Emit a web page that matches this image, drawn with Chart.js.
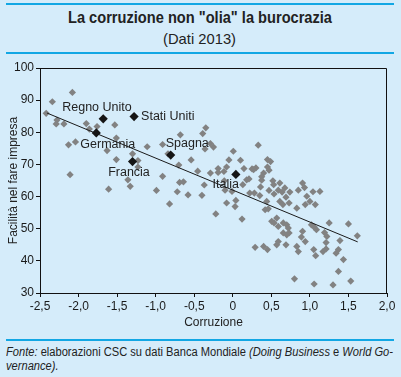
<!DOCTYPE html>
<html><head><meta charset="utf-8">
<script src="https://cdn.jsdelivr.net/npm/chart.js@4.4.1/dist/chart.umd.min.js"></script>
<style>
html,body{margin:0;padding:0;background:#d5ecfa;width:401px;height:377px;overflow:hidden;font-family:"Liberation Sans",Arial,sans-serif;color:#222;}
.rule{position:absolute;left:6px;width:388px;height:2px;background:#12a7e4;}
.t{position:absolute;white-space:nowrap;transform-origin:0 0;line-height:1;}
canvas{position:absolute;left:0;top:0;}
</style></head>
<body>
<div class="rule" style="top:3px"></div>
<div class="rule" style="top:52px"></div>
<div class="rule" style="top:339px"></div>
<div id="title" class="t" style="font-weight:bold;font-size:16.5px;">La corruzione non "olia" la burocrazia</div>
<div id="sub" class="t" style="font-size:15px;">(Dati 2013)</div>
<div id="f1" class="t" style="font-size:12px"><i>Fonte:</i> elaborazioni CSC su dati Banca Mondiale <i>(Doing Business</i> e <i>World Go-</i></div>
<div id="f2" class="t" style="font-size:12px"><i>vernance).</i></div>
<canvas id="c" width="401" height="377"></canvas>
<script>
// ---- data ----
const corruzione = [
 -2.42,-2.34,-2.08,-2.28,-2.29,-2.19,-2.13,-2.04,-2.11,-1.90,
 -1.86,-1.76,-1.53,-1.63,-1.51,-1.51,-1.61,-1.36,-1.33,-1.30,
 -1.23,-1.23,-1.11,-0.99,-0.91,-0.91,-0.84,-0.82,-0.72,-0.69,
 -0.64,-0.58,-0.68,-0.70,-0.54,-0.455,-0.40,-0.37,-0.35,-0.39,
 -0.29,-0.25,-0.36,-0.29,-0.19,-0.19,-0.115,-0.08,-0.05,0.007,
 -0.22,-0.10,-0.01,-0.08,-0.11,0.04,0.03,0.12,0.10,0.145,
 0.13,0.18,0.21,0.25,0.30,0.27,0.33,0.45,0.49,0.45,
 0.47,0.40,0.375,0.375,0.52,0.36,0.47,0.59,0.64,0.74,
 0.85,0.905,0.93,1.04,1.13,0.96,0.28,0.35,0.535,0.69,
 0.22,0.61,0.53,0.675,0.42,0.46,0.61,0.65,0.73,0.83,
 0.94,1.00,1.07,0.44,0.505,0.57,0.535,0.59,0.655,0.70,
 0.72,0.655,0.70,0.73,0.59,0.57,0.69,0.29,0.40,0.45,
 0.83,0.85,0.905,0.89,1.02,1.055,1.085,1.19,1.22,1.21,
 1.25,1.39,1.50,1.615,1.05,1.075,1.17,1.21,1.34,1.37,
 1.435,1.37,0.80,1.055,1.30,1.53,0.94
];
const facilita = [
 85.9,89.5,92.4,83.8,82.6,82.6,76.1,77.0,66.8,82.7,
 81.0,81.8,82.3,74.3,78.2,71.5,62.3,65.2,63.2,73.3,
 71.2,69.2,75.5,61.9,76.2,66.3,73.3,57.7,61.5,64.4,
 64.6,60.5,79.2,69.8,71.4,67.9,60.4,63.6,81.4,79.6,
 76.5,75.4,74.8,67.3,68.7,67.5,67.8,69.2,71.4,74.1,
 54.6,62.0,61.6,58.0,64.9,58.8,56.9,53.0,71.3,68.7,
 63.7,65.2,65.5,68.6,68.9,68.4,76.0,71.5,70.9,69.2,
 68.2,67.3,66.2,65.1,64.9,63.0,61.9,62.0,61.4,61.4,
 62.0,64.2,62.8,61.5,61.6,60.1,61.1,60.3,60.8,59.8,
 61.1,64.2,63.7,62.7,55.9,56.2,58.5,57.5,58.0,56.4,
 57.5,58.5,57.5,58.5,52.3,53.3,51.8,50.7,51.8,51.2,
 50.2,48.7,48.1,48.7,46.0,45.0,45.0,44.2,44.5,43.5,
 44.5,42.9,49.2,47.4,51.2,50.5,49.7,48.8,47.6,45.7,
 51.8,46.3,51.5,47.8,43.5,41.6,42.9,43.7,42.4,43.5,
 40.4,36.7,34.4,32.8,32.5,33.7,46.0
];
const paesi = ['Regno Unito','Stati Uniti','Germania','Francia','Spagna','Italia'];
const paesiCorruzione = [-1.68,-1.28,-1.77,-1.30,-0.805,0.04];
const paesiFacilita = [84.2,84.9,79.8,70.9,72.9,66.9];
const trendX = [-2.41,1.62];
const trendY = [86.0,45.9];
const xTicks = [-2.5,-2.0,-1.5,-1.0,-0.5,0,0.5,1.0,1.5,2.0];
const xTickLabels = ['-2,5','-2,0','-1,5','-1,0','-0,5','0','0,5','1,0','1,5','2,0'];
const yTicks = [30,40,50,60,70,80,90,100];
const yTickLabels = ['30','40','50','60','70','80','90','100'];

// ---- header/footer text placement ----
function place(id, left, width, baseline, fs, scaleFrom){
  const el = document.getElementById(id);
  const w = el.getBoundingClientRect().width;
  const s = scaleFrom || (width / w);
  el.style.left = left + 'px';
  el.style.top = (baseline - 0.8465*fs) + 'px';
  el.style.transform = 'scaleX(' + s + ')';
  return s;
}
place('title', 68, 264, 23, 16.5);
place('sub', 163, 73, 43.3, 15);
const fs1 = place('f1', 6, 387, 356.5, 12);
place('f2', 6, 0, 370, 12, fs1);

// ---- chart ----
const labelOffsets = [[-41,-7.5],[7,3.3],[-16,14.7],[-24.4,14.8],[-5,-8.3],[-23.3,13.3]];
const framePlugin = {
  id:'frame',
  beforeDatasetsDraw(chart){
    const {ctx, chartArea:a} = chart;
    ctx.save();
    ctx.strokeStyle = '#111';
    ctx.lineWidth = 1;
    ctx.beginPath();
    const t = Math.round(a.top)+0.5, r = Math.round(a.right)-0.5;
    ctx.moveTo(Math.round(a.left), t); ctx.lineTo(r, t); ctx.lineTo(r, Math.round(a.bottom));
    ctx.stroke();
    ctx.restore();
  },
  afterDatasetsDraw(chart){
    const {ctx} = chart;
    const meta = chart.getDatasetMeta(0);
    ctx.save();
    ctx.font = '12.5px "Liberation Sans", Arial, sans-serif';
    ctx.fillStyle = '#222';
    ctx.textAlign = 'left';
    ctx.textBaseline = 'alphabetic';
    meta.data.forEach((p, i) => {
      ctx.fillText(paesi[i], p.x + labelOffsets[i][0], p.y + labelOffsets[i][1]);
    });
    ctx.restore();
  }
};

new Chart(document.getElementById('c'), {
  type: 'scatter',
  data: {
    datasets: [
      { label: 'Paesi', data: paesi.map((n,i)=>({x:paesiCorruzione[i], y:paesiFacilita[i]})),
        pointStyle:'rectRot', pointRadius:4.6, backgroundColor:'#151515', borderWidth:0, order:0 },
      { type:'line', label:'Tendenza', data: trendX.map((x,i)=>({x, y:trendY[i]})),
        borderColor:'#1a1a1a', borderWidth:1, pointRadius:0, showLine:true, fill:false, order:1 },
      { label: 'Altri', data: corruzione.map((x,i)=>({x, y:facilita[i]})),
        pointStyle:'rectRot', pointRadius:3.6, backgroundColor:'#828282', borderWidth:0, order:2 }
    ]
  },
  options: {
    responsive:false, animation:false, devicePixelRatio:1,
    layout:{ padding:{ left:0, right:14, top:68, bottom:44 } },
    plugins:{ legend:{display:false}, tooltip:{enabled:false}, title:{display:false} },
    scales:{
      x:{ type:'linear', min:-2.5, max:2.0,
        afterBuildTicks: s => { s.ticks = xTicks.map(v=>({value:v})); },
        afterFit: s => { s.height = 40; },
        ticks:{ color:'#1a1a1a', font:{size:12, family:'"Liberation Sans", Arial, sans-serif'}, padding:2, maxRotation:0,
          callback: v => xTickLabels[xTicks.findIndex(t=>Math.abs(t-v)<1e-6)] },
        grid:{ drawOnChartArea:false, drawTicks:true, tickLength:4, color:'#111', tickColor:'#111' },
        border:{ display:true, color:'#111', width:1 },
        title:{ display:true, text:'Corruzione', color:'#222', font:{size:12, family:'"Liberation Sans", Arial, sans-serif'}, padding:{top:0,bottom:3} }
      },
      y:{ type:'linear', min:30, max:100,
        afterBuildTicks: s => { s.ticks = yTicks.map(v=>({value:v})); },
        afterFit: s => { s.width = 40; },
        ticks:{ color:'#1a1a1a', font:{size:12, family:'"Liberation Sans", Arial, sans-serif'}, padding:2,
          callback: v => yTickLabels[yTicks.indexOf(v)] },
        grid:{ drawOnChartArea:false, drawTicks:true, tickLength:4, color:'#111', tickColor:'#111' },
        border:{ display:true, color:'#111', width:1 },
        title:{ display:true, text:'Facilità nel fare impresa', color:'#222', font:{size:12, family:'"Liberation Sans", Arial, sans-serif'}, padding:{top:6,bottom:0} }
      }
    }
  },
  plugins:[framePlugin]
});
</script>
</body></html>
